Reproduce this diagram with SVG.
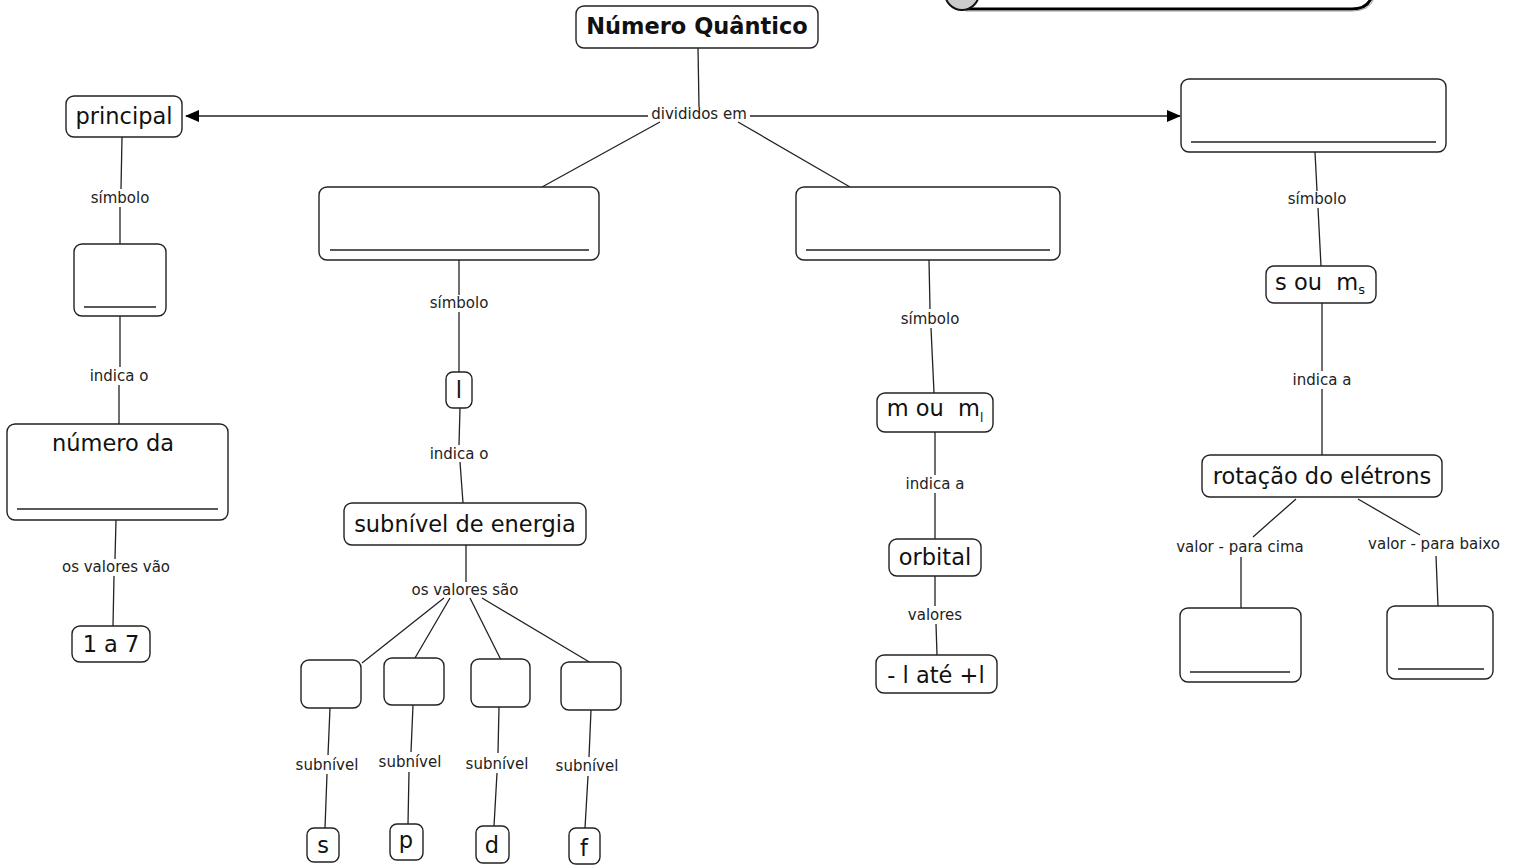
<svg xmlns="http://www.w3.org/2000/svg" width="1516" height="865" viewBox="0 0 1516 865">
<style>
.n{fill:#fff;stroke:#222;stroke-width:1.4}
.u{stroke:#222;stroke-width:1.6}
.t{font-family:"DejaVu Sans",Verdana,sans-serif;font-size:22.5px;fill:#111;text-anchor:middle}
.l{font-family:"DejaVu Sans",Verdana,sans-serif;font-size:15px;fill:#222;text-anchor:middle}
.c{stroke:#222;stroke-width:1.3;fill:none}
</style>
<defs>
<marker id="ah" markerWidth="14" markerHeight="12" refX="13" refY="6" orient="auto" markerUnits="userSpaceOnUse">
<path d="M0,0 L14,6 L0,12 Z" fill="#000"/>
</marker>
</defs>
<rect width="1516" height="865" fill="#fff"/>

<g id="topbox">
<path d="M966,9 L1352,9 Q1368,9 1372,-4" fill="#fff" stroke="#000" stroke-width="3"/>
<path d="M966,11 L1352,11 Q1370,11 1374,-2" fill="none" stroke="#999" stroke-width="1"/>
<circle cx="962" cy="-7" r="17" fill="#ccc" stroke="#111" stroke-width="2"/>
</g>

<g id="connectors">
<path class="c" d="M698,48 L699,107"/>
<path class="c" d="M648,116 L186,116" marker-end="url(#ah)"/>
<path class="c" d="M750,116 L1180,116" marker-end="url(#ah)"/>
<path class="c" d="M660,122 L542,187"/>
<path class="c" d="M738,122 L850,187"/>
<path class="c" d="M122,137 L121,189 M120,207 L120,244"/>
<path class="c" d="M120,316 L120,367 M119,385 L119,424"/>
<path class="c" d="M116,520 L115,559 M114,576 L113,626"/>
<path class="c" d="M459,260 L459,295 M459,312 L459,372"/>
<path class="c" d="M460,408 L459,445 M460,462 L463,503"/>
<path class="c" d="M466,545 L466,582"/>
<path class="c" d="M444,598 L362,663 M450,598 L415,658 M470,598 L501,660 M482,598 L591,663"/>
<path class="c" d="M330,708 L328,755 M327,774 L325,828"/>
<path class="c" d="M413,705 L411,752 M409,772 L408,824"/>
<path class="c" d="M499,707 L498,753 M497,773 L494,826"/>
<path class="c" d="M591,710 L589,757 M588,776 L585,828"/>
<path class="c" d="M929,260 L930,309 M931,328 L934,393"/>
<path class="c" d="M935,432 L935,475 M935,493 L935,539"/>
<path class="c" d="M935,576 L935,606 M936,624 L937,655"/>
<path class="c" d="M1315,152 L1317,191 M1318,208 L1321,266"/>
<path class="c" d="M1322,303 L1322,371 M1322,389 L1322,455"/>
<path class="c" d="M1296,499 L1253,537 M1241,557 L1241,608"/>
<path class="c" d="M1358,499 L1420,535 M1436,556 L1438,606"/>
</g>

<g id="labels">
<text class="l" x="699" y="119">divididos em</text>
<text class="l" x="120" y="203">símbolo</text>
<text class="l" x="119" y="381">indica o</text>
<text class="l" x="116" y="572">os valores vão</text>
<text class="l" x="459" y="308">símbolo</text>
<text class="l" x="459" y="459">indica o</text>
<text class="l" x="465" y="595">os valores são</text>
<text class="l" x="327" y="770">subnível</text>
<text class="l" x="410" y="767">subnível</text>
<text class="l" x="497" y="769">subnível</text>
<text class="l" x="587" y="771">subnível</text>
<text class="l" x="930" y="324">símbolo</text>
<text class="l" x="935" y="489">indica a</text>
<text class="l" x="935" y="620">valores</text>
<text class="l" x="1317" y="204">símbolo</text>
<text class="l" x="1322" y="385">indica a</text>
<text class="l" x="1240" y="552">valor - para cima</text>
<text class="l" x="1434" y="549">valor - para baixo</text>
</g>

<g id="numero-quantico">
<rect class="n" x="576" y="6" width="242" height="42" rx="8"/>
<text class="t" x="697" y="34" style="font-weight:bold;font-size:22.5px">Número Quântico</text>
</g>
<g id="principal">
<rect class="n" x="66" y="96" width="116" height="41" rx="8"/>
<text class="t" x="124" y="124">principal</text>
</g>
<g id="blank-n">
<rect class="n" x="74" y="244" width="92" height="72" rx="8"/>
<line class="u" x1="84" y1="307" x2="156" y2="307"/>
</g>
<g id="numero-da">
<rect class="n" x="7" y="424" width="221" height="96" rx="8"/>
<text class="t" x="113" y="451">número da</text>
<line class="u" x1="17" y1="509" x2="218" y2="509"/>
</g>
<g id="um-a-sete">
<rect class="n" x="72" y="626" width="78" height="36" rx="8"/>
<text class="t" x="111" y="652">1 a 7</text>
</g>

<g id="blank-l">
<rect class="n" x="319" y="187" width="280" height="73" rx="8"/>
<line class="u" x1="330" y1="250" x2="589" y2="250"/>
</g>
<g id="l-node">
<rect class="n" x="446" y="372" width="26" height="36" rx="7"/>
<text class="t" x="459" y="398">l</text>
</g>
<g id="subnivel-energia">
<rect class="n" x="344" y="503" width="242" height="42" rx="8"/>
<text class="t" x="465" y="532">subnível de energia</text>
</g>
<g id="box1"><rect class="n" x="301" y="660" width="60" height="48" rx="8"/></g>
<g id="box2"><rect class="n" x="384" y="658" width="60" height="47" rx="8"/></g>
<g id="box3"><rect class="n" x="471" y="659" width="59" height="48" rx="8"/></g>
<g id="box4"><rect class="n" x="561" y="662" width="60" height="48" rx="8"/></g>
<g id="s-node">
<rect class="n" x="307" y="828" width="32" height="34" rx="7"/>
<text class="t" x="323" y="853">s</text>
</g>
<g id="p-node">
<rect class="n" x="390" y="824" width="33" height="36" rx="7"/>
<text class="t" x="406" y="848">p</text>
</g>
<g id="d-node">
<rect class="n" x="476" y="826" width="33" height="37" rx="7"/>
<text class="t" x="492" y="853">d</text>
</g>
<g id="f-node">
<rect class="n" x="569" y="828" width="31" height="36" rx="7"/>
<text class="t" x="584" y="856">f</text>
</g>

<g id="blank-m">
<rect class="n" x="796" y="187" width="264" height="73" rx="8"/>
<line class="u" x1="806" y1="250" x2="1050" y2="250"/>
</g>
<g id="m-ou-ml">
<rect class="n" x="877" y="393" width="116" height="39" rx="8"/>
<text class="t" x="935" y="416" xml:space="preserve">m ou  m<tspan style="font-size:12px" dy="6">l</tspan></text>
</g>
<g id="orbital">
<rect class="n" x="889" y="539" width="92" height="37" rx="8"/>
<text class="t" x="935" y="565">orbital</text>
</g>
<g id="menos-l-mais-l">
<rect class="n" x="876" y="655" width="121" height="38" rx="8"/>
<text class="t" x="936" y="683">- l até +l</text>
</g>

<g id="blank-s">
<rect class="n" x="1181" y="79" width="265" height="73" rx="8"/>
<line class="u" x1="1191" y1="142" x2="1436" y2="142"/>
</g>
<g id="s-ou-ms">
<rect class="n" x="1266" y="266" width="110" height="37" rx="8"/>
<text class="t" x="1320" y="290" xml:space="preserve">s ou  m<tspan style="font-size:13px" dy="4">s</tspan></text>
</g>
<g id="rotacao">
<rect class="n" x="1202" y="455" width="240" height="42" rx="8"/>
<text class="t" x="1322" y="484">rotação do elétrons</text>
</g>
<g id="blank-up">
<rect class="n" x="1180" y="608" width="121" height="74" rx="8"/>
<line class="u" x1="1190" y1="672" x2="1290" y2="672"/>
</g>
<g id="blank-down">
<rect class="n" x="1387" y="606" width="106" height="73" rx="8"/>
<line class="u" x1="1398" y1="669" x2="1484" y2="669"/>
</g>
</svg>
